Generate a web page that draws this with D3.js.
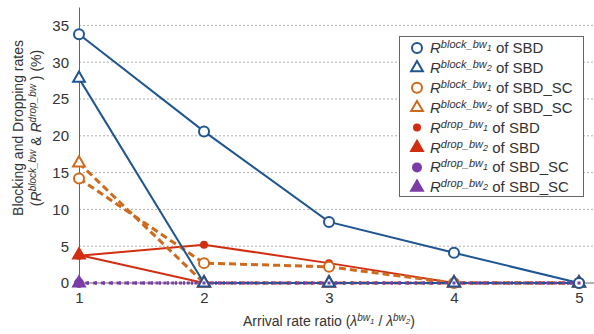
<!DOCTYPE html>
<html>
<head>
<meta charset="utf-8">
<script src="https://d3js.org/d3.v7.min.js"></script>
<style>
  body { margin: 0; background: #fff; }
  text { font-family: "Liberation Sans", Arial, sans-serif; fill: #333; }
</style>
</head>
<body>
<svg id="chart" width="594" height="334"></svg>
<script>
// arrival rate ratios on the x axis
var ratios = [1, 2, 3, 4, 5];
var yTicks = [0, 5, 10, 15, 20, 25, 30, 35];

// blocking / dropping rates (%)
var blockBw1SBD   = [33.8, 20.6, 8.3, 4.1, 0];
var blockBw2SBD   = [27.8, 0, 0, 0, 0];
var blockBw1SBDSC = [14.2, 2.7, 2.2, 0, 0];
var blockBw2SBDSC = [16.3, 0, 0, 0, 0];
var dropBw1SBD    = [3.7, 5.2, 2.7, 0, 0];
var dropBw2SBD    = [3.8, 0, 0, 0, 0];
var dropBw1SBDSC  = [0, 0, 0, 0, 0];
var dropBw2SBDSC  = [0, 0, 0, 0, 0];

var seriesNames = [
  ["block_bw", "1", "SBD"], ["block_bw", "2", "SBD"],
  ["block_bw", "1", "SBD_SC"], ["block_bw", "2", "SBD_SC"],
  ["drop_bw", "1", "SBD"], ["drop_bw", "2", "SBD"],
  ["drop_bw", "1", "SBD_SC"], ["drop_bw", "2", "SBD_SC"]
];

var blue = "#1f5591", orange = "#cf6a1c", red = "#d22e12", purple = "#7b3ca6";

// style of each series, in legend order
var styles = [
  {values: blockBw1SBD, color: blue, dash: null, marker: "circle", fill: "#fff", r: 5},
  {values: blockBw2SBD, color: blue, dash: null, marker: "triangle", fill: "#fff", r: 5},
  {values: blockBw1SBDSC, color: orange, dash: "7,4", marker: "circle", fill: "#fff", r: 5},
  {values: blockBw2SBDSC, color: orange, dash: "7,4", marker: "triangle", fill: "#fff", r: 5},
  {values: dropBw1SBD, color: red, dash: null, marker: "circle", fill: red, r: 3},
  {values: dropBw2SBD, color: red, dash: null, marker: "triangle", fill: red, r: 5},
  {values: dropBw1SBDSC, color: purple, dash: "2,6", marker: "circle", fill: purple, r: 4},
  {values: dropBw2SBDSC, color: purple, dash: "2,6", marker: "triangle", fill: purple, r: 5}
];

var svg = d3.select("#chart");
var x = d3.scaleLinear().domain([1, 5]).range([79, 579]);
var y = d3.scaleLinear().domain([0, 37.5]).range([283, 7]);

// dotted grid
svg.append("g").selectAll("line")
  .data(yTicks.filter(function(d) { return d > 0; }))
  .enter().append("line")
    .attr("x1", x(1)).attr("x2", 594)
    .attr("y1", function(d) { return y(d); })
    .attr("y2", function(d) { return y(d); })
    .attr("stroke", "#b0b0b0")
    .attr("stroke-dasharray", "2,2");

// axes
var yAxis = svg.append("g")
  .attr("transform", "translate(" + x(1) + ",0)")
  .call(d3.axisLeft(y).tickValues(yTicks).tickSize(0).tickPadding(10));
yAxis.select(".domain").attr("stroke", "#666");
yAxis.selectAll("text").style("font-size", "15px").attr("fill", "#333");

var xAxis = svg.append("g")
  .attr("transform", "translate(0," + y(0) + ")")
  .call(d3.axisBottom(x).tickValues(ratios).tickFormat(d3.format("d")).tickSize(0).tickPadding(9));
xAxis.select(".domain").attr("stroke", "#666").attr("d", "M" + x(1) + ",0H594");
xAxis.selectAll("text").style("font-size", "15px").attr("fill", "#333");

// lines and markers
var line = d3.line()
  .x(function(d, i) { return x(ratios[i]); })
  .y(function(d) { return y(d); });

styles.slice().reverse().forEach(function(s) {
  svg.append("path")
    .attr("d", line(s.values))
    .attr("fill", "none")
    .attr("stroke", s.color)
    .attr("stroke-width", s.dash ? 3 : 2)
    .attr("stroke-dasharray", s.dash);
});

function drawMarker(g, s, cx, cy) {
  if (s.marker == "circle") {
    g.append("circle").attr("cx", cx).attr("cy", cy).attr("r", s.r)
      .attr("fill", s.fill).attr("stroke", s.color).attr("stroke-width", 2);
  } else {
    g.append("path")
      .attr("d", d3.symbol().type(d3.symbolTriangle).size(60)())
      .attr("transform", "translate(" + cx + "," + cy + ")")
      .attr("fill", s.fill).attr("stroke", s.color).attr("stroke-width", 2);
  }
}

var markers = svg.append("g");
styles.slice().reverse().forEach(function(s) {
  s.values.forEach(function(v, i) {
    if (s.r < 5 && s.color == purple && i > 0) return;
    drawMarker(markers, s, x(ratios[i]), y(v));
  });
});
// small dots along the purple dotted line
markers.selectAll(".pdot")
  .data(d3.range(1, 5.01, 1 / 16))
  .enter().append("rect")
    .attr("x", function(d) { return x(d) - 1.5; })
    .attr("y", y(0) - 1.5)
    .attr("width", 3).attr("height", 3)
    .attr("fill", purple);

// legend
var legend = svg.append("g");
legend.append("rect")
  .attr("x", 399.5).attr("y", 36.5).attr("width", 184).attr("height", 160)
  .attr("fill", "#fff").attr("stroke", "#666");

seriesNames.forEach(function(n, i) {
  var yy = 48 + i * 19.9;
  drawMarker(legend, styles[i], 417, yy);
  var t = legend.append("text").attr("x", 430).attr("y", yy + 5).style("font-size", "15px");
  t.append("tspan").text("R").style("font-style", "italic");
  t.append("tspan").text(n[0]).attr("dy", -5).style("font-size", "11px").style("font-style", "italic");
  t.append("tspan").text(n[1]).attr("dy", 3).style("font-size", "9px").style("font-style", "italic");
  t.append("tspan").text(" of " + n[2]).attr("dy", 2);
});

// axis titles
var yt = svg.append("text")
  .attr("transform", "translate(23,128) rotate(-90)")
  .attr("text-anchor", "middle")
  .style("font-size", "14px");
yt.append("tspan").attr("x", 0).attr("dy", 0).text("Blocking and Dropping rates");
var l2 = yt.append("tspan").attr("x", 0).attr("dy", 18).text("(");
l2.append("tspan").text("R").style("font-style", "italic");
yt.append("tspan").text("block_bw").attr("dy", -5).style("font-size", "10px").style("font-style", "italic");
yt.append("tspan").text(" & ").attr("dy", 5);
yt.append("tspan").text("R").style("font-style", "italic");
yt.append("tspan").text("drop_bw").attr("dy", -5).style("font-size", "10px").style("font-style", "italic");
yt.append("tspan").text(" ) (%)").attr("dy", 5);

var xt = svg.append("text")
  .attr("x", 329).attr("y", 326)
  .attr("text-anchor", "middle")
  .style("font-size", "14px");
xt.append("tspan").text("Arrival rate ratio (");
xt.append("tspan").text("λ").style("font-style", "italic");
xt.append("tspan").text("bw").attr("dy", -5).style("font-size", "10px").style("font-style", "italic");
xt.append("tspan").text("1").attr("dy", 3).style("font-size", "8px").style("font-style", "italic");
xt.append("tspan").text(" / ").attr("dy", 2);
xt.append("tspan").text("λ").style("font-style", "italic");
xt.append("tspan").text("bw").attr("dy", -5).style("font-size", "10px").style("font-style", "italic");
xt.append("tspan").text("2").attr("dy", 3).style("font-size", "8px").style("font-style", "italic");
xt.append("tspan").text(")").attr("dy", 2);
</script>
</body>
</html>
